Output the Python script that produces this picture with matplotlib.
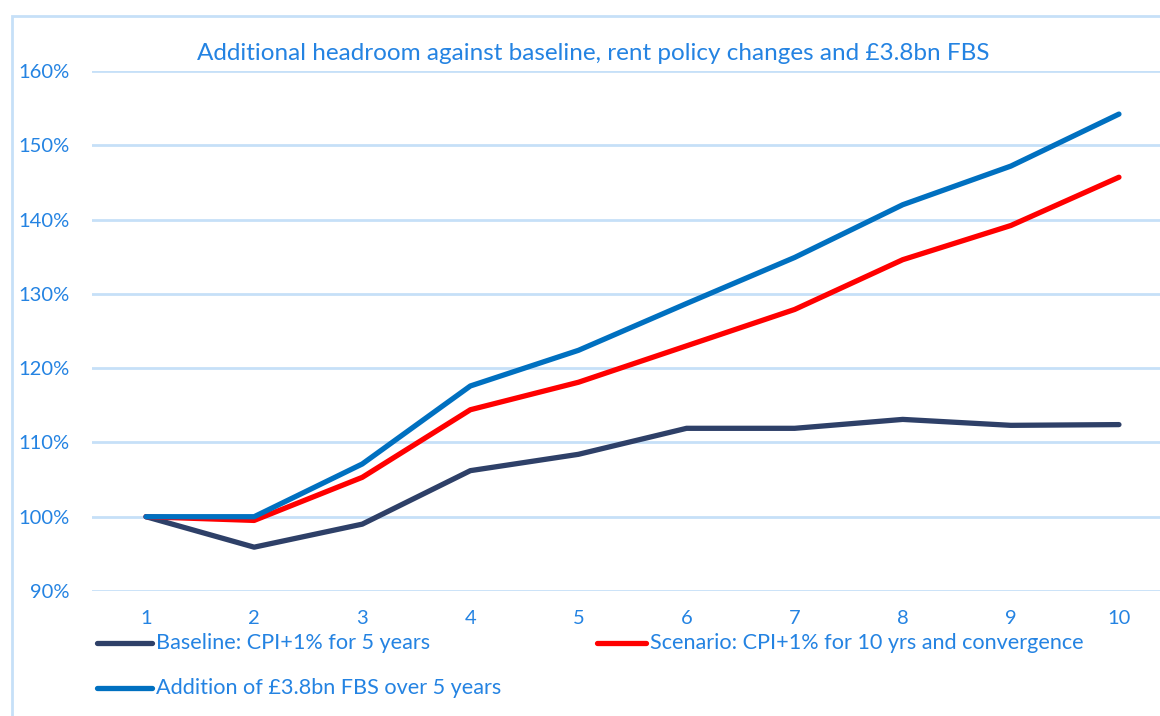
import matplotlib
matplotlib.use("Agg")
import matplotlib.pyplot as plt
from matplotlib.lines import Line2D
from matplotlib.patches import Rectangle
from matplotlib.ticker import FuncFormatter

years = [1, 2, 3, 4, 5, 6, 7, 8, 9, 10]
baseline = [100.0, 95.9, 99.0, 106.2, 108.4, 111.9, 111.9, 113.1, 112.3, 112.4]
scenario = [100.0, 99.5, 105.3, 114.4, 118.1, 123.0, 127.9, 134.6, 139.2, 145.7]
addition = [100.0, 100.0, 107.1, 117.6, 122.4, 128.7, 134.9, 142.0, 147.2, 154.2]
labels = ["Baseline: CPI+1% for 5 years",
          "Scenario: CPI+1% for 10 yrs and convergence",
          "Addition of £3.8bn FBS over 5 years"]
title = "Additional headroom against baseline, rent policy changes and £3.8bn FBS"
yticks = [90, 100, 110, 120, 130, 140, 150, 160]

colors = ["#2E4068", "#FF0000", "#0070C0"]
txtc = "#2483E2"
gridc = "#C6E0F8"
FONT = ["Lato", "DejaVu Sans"]
plt.rcParams['font.family'] = FONT

W, H = 1160, 716
fig = plt.figure(figsize=(W/100, H/100), dpi=100)

def fx(px): return px / W
def fy(py): return 1 - py / H

# outer frame
fig.add_artist(Rectangle((fx(12), fy(740)), fx(1200), fy(16) - fy(740),
                         transform=fig.transFigure, fill=False,
                         edgecolor=gridc, linewidth=2))

left, right, top, bottom = 92, 1173, 71, 591
ax = fig.add_axes([fx(left), fy(bottom), fx(right - left), fy(top) - fy(bottom)])
ax.set_xlim(0.5, 10.5)
ax.set_ylim(90, 160)
for s in ax.spines.values():
    s.set_visible(False)
ax.set_yticks(yticks)
ax.yaxis.set_major_formatter(FuncFormatter(lambda v, p: f"{v:.0f}%"))
ax.set_xticks(years)
ax.grid(axis="y", color=gridc, linewidth=2)
ax.set_axisbelow(True)
ax.tick_params(axis="both", length=0, labelsize=14.5, labelcolor=txtc)
ax.tick_params(axis="y", pad=16)
ax.tick_params(axis="x", pad=14)

for data, c in zip([baseline, scenario, addition], colors):
    ax.plot(years, data, color=c, linewidth=3.8, solid_capstyle="round",
            solid_joinstyle="round", clip_on=False)

fig.text(fx(593), fy(53), title, ha="center", va="center", fontsize=17.5, color=txtc)

# legend
entries = [(97, 152, 643, 0), (597, 646, 643, 1), (97, 152, 688, 2)]
for x0, x1, y, i in entries:
    fig.add_artist(Line2D([fx(x0), fx(x1)], [fy(y), fy(y)], transform=fig.transFigure,
                          color=colors[i], linewidth=3.8, solid_capstyle="round"))
    fig.text(fx(x1 + 4), fy(y), labels[i], ha="left", va="center", fontsize=15.6, color=txtc)

fig.savefig("out.png", dpi=100, facecolor="white")
